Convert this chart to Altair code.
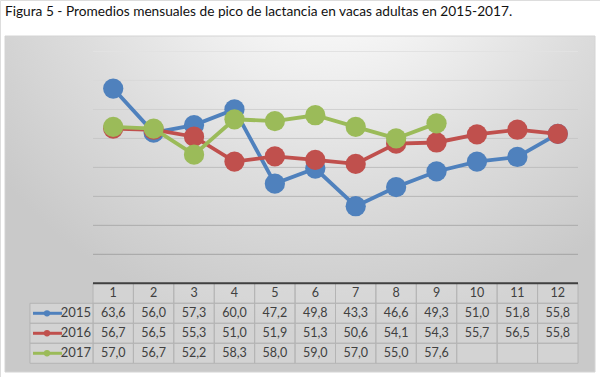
import altair as alt
import pandas as pd

# ---------------- data ----------------
months = list(range(1, 13))
years = ["2015", "2016", "2017"]
v2015 = [63.6, 56.0, 57.3, 60.0, 47.2, 49.8, 43.3, 46.6, 49.3, 51.0, 51.8, 55.8]
v2016 = [56.7, 56.5, 55.3, 51.0, 51.9, 51.3, 50.6, 54.1, 54.3, 55.7, 56.5, 55.8]
v2017 = [57.0, 56.7, 52.2, 58.3, 58.0, 59.0, 57.0, 55.0, 57.6, None, None, None]
colors = ["#4F81BD", "#C0504D", "#9BBB59"]
grid_values = [35, 40, 45, 50, 55, 60, 65, 70]
title_text = "Figura 5 - Promedios mensuales de pico de lactancia en vacas adultas en 2015-2017."

# data table below the plot: rows laid out on the same y scale, below its floor (30)
Y_FLOOR = 30.0
ROW_H = 3.45  # one table row, in value units

series = {"2015": v2015, "2016": v2016, "2017": v2017}
rows = []
for i, yr in enumerate(years):
    for m, v in zip(months, series[yr]):
        rows.append(dict(year=yr, month=m, value=v,
                         label="" if v is None else f"{v:.1f}".replace(".", ","),
                         r=i + 1))
df = pd.DataFrame(rows)


def add_geom(d, rcol="r"):
    d["r1"] = Y_FLOOR - d[rcol] * ROW_H
    d["r2"] = Y_FLOOR - (d[rcol] + 1) * ROW_H
    d["rm"] = Y_FLOOR - (d[rcol] + 0.5) * ROW_H
    return d


df["x1"] = df["month"] - 0.5
df["x2"] = df["month"] + 0.5
df = add_geom(df)

hdr = pd.DataFrame({"month": months, "label": [str(m) for m in months], "r": 0})
hdr["x1"] = hdr["month"] - 0.5
hdr["x2"] = hdr["month"] + 0.5
hdr = add_geom(hdr)

leg = pd.DataFrame({"year": years, "r": [1, 2, 3]})
leg["xl"] = -1.06
leg["xr"] = 0.5
leg = add_geom(leg)

grid = pd.DataFrame({"g": grid_values, "xa": 0.5, "xb": 12.5})
hline = pd.DataFrame({"yv": [Y_FLOOR], "xa": [0.5], "xb": [12.5]})
one = pd.DataFrame({"a": [0]})

# ---------------- scales ----------------
xs = alt.Scale(domain=[0.5, 12.5], range=[93, 578])
ys = alt.Scale(domain=[30, 70], range=[283.3, 51.5])

FONT = "Lato"

bg = alt.Chart(one).mark_rect(
    fill={
        "gradient": "radial",
        "x1": 0.55, "y1": 0.0, "r1": 0.0,
        "x2": 0.55, "y2": 0.0, "r2": 0.72,
        "stops": [
            {"offset": 0.0, "color": "#ffffff"},
            {"offset": 0.3, "color": "#f5f5f5"},
            {"offset": 0.65, "color": "#dddddd"},
            {"offset": 1.0, "color": "#c9c9c9"},
        ],
    },
    stroke="#d4d4d4", strokeWidth=1,
).encode(x=alt.value(5), x2=alt.value(595), y=alt.value(36), y2=alt.value(372))

title = alt.Chart(one).mark_text(
    text=title_text, align="left", baseline="middle", fontSize=13.7, font=FONT, color="#111111"
).encode(x=alt.value(5), y=alt.value(12))

X = lambda f: alt.X(f, scale=xs, axis=None)
Y = lambda f: alt.Y(f, scale=ys, axis=None)

gridlines = alt.Chart(grid).mark_rule(strokeWidth=1).encode(
    x=X("xa:Q"), x2="xb:Q", y=Y("g:Q"),
    color=alt.Color("g:Q", scale=alt.Scale(domain=[35, 70], range=["#a3a3a3", "#e2e2e2"]), legend=None),
)

cell_style = dict(fill="#ffffff", fillOpacity=0.2, stroke="#b4b4b4", strokeWidth=1)
hdr_cells = alt.Chart(hdr).mark_rect(**cell_style).encode(x=X("x1:Q"), x2="x2:Q", y=Y("r1:Q"), y2="r2:Q")
val_cells = alt.Chart(df).mark_rect(**cell_style).encode(x=X("x1:Q"), x2="x2:Q", y=Y("r1:Q"), y2="r2:Q")
leg_cells = alt.Chart(leg).mark_rect(**cell_style).encode(x=X("xl:Q"), x2="xr:Q", y=Y("r1:Q"), y2="r2:Q")
hdr_line = alt.Chart(hline).mark_rule(color="#404040", strokeWidth=2).encode(x=X("xa:Q"), x2="xb:Q", y=Y("yv:Q"))

txt = dict(fontSize=12.5, font=FONT, color="#404040", baseline="middle")
hdr_text = alt.Chart(hdr).mark_text(**txt).encode(x=X("month:Q"), y=Y("rm:Q"), text="label:N")
val_text = alt.Chart(df).mark_text(**txt).encode(x=X("month:Q"), y=Y("rm:Q"), text="label:N")
leg_text = alt.Chart(leg).mark_text(fontSize=13, font=FONT, color="#404040", baseline="middle",
                                    align="right").encode(x=alt.value(91), y=Y("rm:Q"), text="year:N")

layers = [bg, title, gridlines, hdr_cells, val_cells, leg_cells, hdr_line, hdr_text, val_text, leg_text]

for yr, col in zip(years, colors):
    sub = df[df["year"] == yr]
    lsub = leg[leg["year"] == yr]
    line = alt.Chart(sub).mark_line(color=col, strokeWidth=3.8).encode(x=X("month:Q"), y=Y("value:Q"))
    pts = alt.Chart(sub).mark_circle(color=col, opacity=1, size=410).encode(x=X("month:Q"), y=Y("value:Q"))
    sw_line = alt.Chart(lsub).mark_rule(color=col, strokeWidth=3).encode(
        x=alt.value(33), x2=alt.value(62), y=Y("rm:Q"))
    sw_pt = alt.Chart(lsub).mark_circle(color=col, opacity=1, size=40).encode(x=alt.value(47), y=Y("rm:Q"))
    layers += [line, pts, sw_line, sw_pt]

chart = alt.layer(*layers).properties(
    width=600, height=377, padding=0,
    autosize=alt.AutoSizeParams(type="none"),
).configure_view(stroke=None).configure(background="#ffffff")

chart.save("out.html", embed_options={"renderer": "svg", "actions": False})
